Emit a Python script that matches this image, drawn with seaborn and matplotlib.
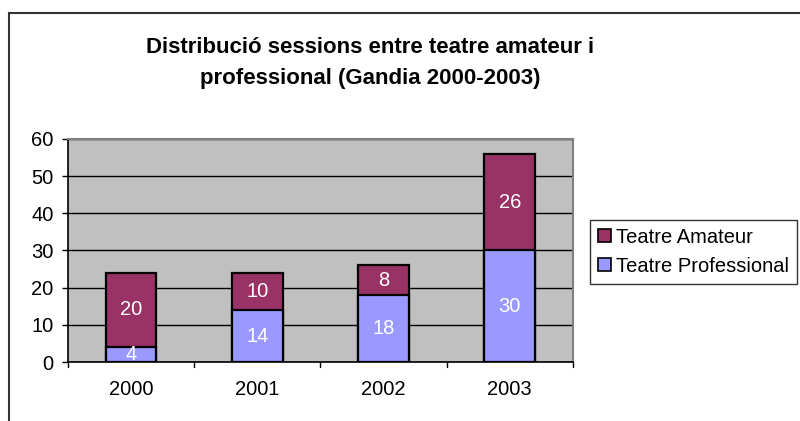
import matplotlib
matplotlib.use("Agg")
import matplotlib.pyplot as plt
from matplotlib.patches import Rectangle, Patch
import seaborn as sns
import pandas as pd

years = ["2000", "2001", "2002", "2003"]
professional = [4, 14, 18, 30]
amateur = [20, 10, 8, 26]
series_names = ["Teatre Amateur", "Teatre Professional"]
title = "Distribució sessions entre teatre amateur i\nprofessional (Gandia 2000-2003)"

col_amateur = "#993366"
col_prof = "#9999FF"

sns.set_theme(style="white")
plt.rcParams["font.family"] = ["Liberation Sans", "DejaVu Sans"]
plt.rcParams["text.color"] = "black"
plt.rcParams["xtick.color"] = "black"
plt.rcParams["ytick.color"] = "black"
plt.rcParams["xtick.labelcolor"] = "black"
plt.rcParams["ytick.labelcolor"] = "black"

df = pd.DataFrame({"year": years, "prof": professional, "amat": amateur})
df["total"] = df["prof"] + df["amat"]

fig = plt.figure(figsize=(8, 4.21), dpi=100)
ax = fig.add_axes([0.085, 0.140, 0.631, 0.530])
ax.set_facecolor("#C0C0C0")

# stacked bars: total in amateur colour, professional drawn over it
sns.barplot(data=df, x="year", y="total", color=col_amateur, saturation=1,
            width=0.4, edgecolor="black", linewidth=1.6, ax=ax, zorder=3)
sns.barplot(data=df, x="year", y="prof", color=col_prof, saturation=1,
            width=0.4, edgecolor="black", linewidth=1.6, ax=ax, zorder=4)

for i, row in df.iterrows():
    ax.text(i, row["prof"] / 2, str(row["prof"]), ha="center", va="center",
            color="white", fontsize=14.5, zorder=5)
    ax.text(i, row["prof"] + row["amat"] / 2, str(row["amat"]), ha="center",
            va="center", color="white", fontsize=14.5, zorder=5)

ax.set_ylim(0, 60)
ax.set_xlim(-0.5, 3.5)
ax.set_yticks(range(0, 61, 10))
ax.yaxis.grid(True, color="black", linewidth=1)
ax.set_axisbelow(True)
ax.set_xlabel("")
ax.set_ylabel("")
ax.set_xticks([0, 1, 2, 3])
ax.set_xticklabels(years)
ax.tick_params(axis="x", length=0, labelsize=14.5, pad=13)
ax.tick_params(axis="y", length=4.5, width=1, color="black", labelsize=14.5, pad=6,
               left=True, direction="out")
for xb in [0.5, 1.5, 2.5, 3.5]:
    ax.plot([xb, xb], [0, -1.3], color="black", lw=1, clip_on=False)
ax.plot([-0.5, -0.5], [0, -1.3], color="black", lw=1, clip_on=False)

for side in ["top", "right"]:
    ax.spines[side].set_color("#808080")
    ax.spines[side].set_linewidth(1.5)
for side in ["left", "bottom"]:
    ax.spines[side].set_color("black")
    ax.spines[side].set_linewidth(1.2)

handles = [Patch(facecolor=col_amateur, edgecolor="black", linewidth=1.2),
           Patch(facecolor=col_prof, edgecolor="black", linewidth=1.2)]
leg = fig.legend(handles, series_names, loc="upper left",
                 bbox_to_anchor=(0.738, 0.478), fontsize=14.5, frameon=True,
                 fancybox=False, edgecolor="black", handlelength=0.6,
                 handleheight=0.6, handletextpad=0.25, borderpad=0.4,
                 labelspacing=0.5, borderaxespad=0)
leg.get_frame().set_linewidth(1)

fig.text(0.463, 0.850, title, ha="center", va="center", fontsize=16,
         fontweight="bold", linespacing=1.65)

fig.patches.append(Rectangle((0.011, -0.1), 1.1, 0.07 + 1.0, transform=fig.transFigure,
                             fill=False, edgecolor="#333333", linewidth=1.5))

fig.savefig("out.png", dpi=100)
plt.close(fig)
